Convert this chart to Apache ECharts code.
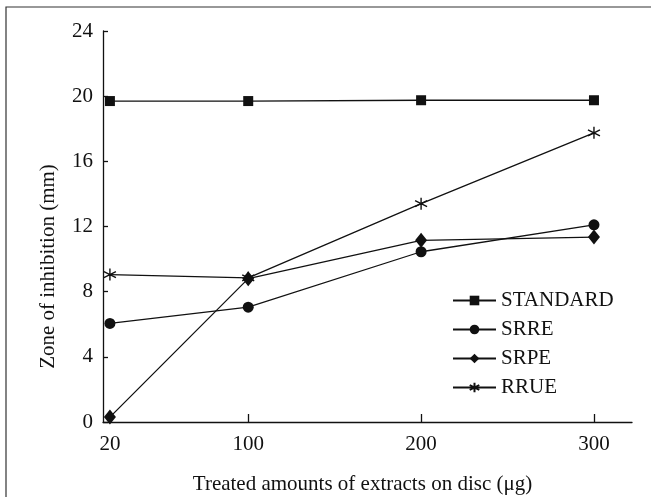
<!DOCTYPE html>
<html>
<head>
<meta charset="utf-8">
<script src="https://cdn.jsdelivr.net/npm/echarts@6/dist/echarts.min.js"></script>
<style>
  html, body { margin: 0; padding: 0; background: #fff; }
  #main { width: 651px; height: 497px; }
</style>
</head>
<body>
<div id="main"></div>
<script>
// amounts of extract on the disc (ug)
var doses = [20, 100, 200, 300];
var yTicks = [0, 4, 8, 12, 16, 20, 24];
// zone of inhibition (mm)
var standard = [19.7, 19.7, 19.75, 19.75];
var srre = [6.05, 7.05, 10.45, 12.1];
var srpe = [0.3, 8.8, 11.15, 11.35];
var rrue = [9.05, 8.85, 13.4, 17.75];

var names = ['STANDARD', 'SRRE', 'SRPE', 'RRUE'];
var ink = '#111';
var font = '"Liberation Serif", "DejaVu Serif", serif';

function pairs(vals) {
  var out = [];
  for (var i = 0; i < doses.length; i++) {
    out.push([doses[i], vals[i]]);
  }
  return out;
}

function mkSeries(name, vals, symbol, size, extra) {
  var s = {
    name: name,
    type: 'line',
    data: pairs(vals),
    symbol: symbol,
    symbolSize: size,
    lineStyle: { color: ink, width: 1.3 },
    itemStyle: { color: ink },
    emphasis: { disabled: true },
    z: 3
  };
  if (extra) {
    for (var k in extra) s[k] = extra[k];
  }
  return s;
}

var star = 'path://M5,0L5,10M0.7,2.5L9.3,7.5M0.7,7.5L9.3,2.5';

var myChart = echarts.init(document.getElementById('main'));
var opt = {
  backgroundColor: '#fff',
  animation: false,
  textStyle: { fontFamily: font, color: ink },
  graphic: [
    {
      type: 'rect',
      shape: { x: 6, y: 7, width: 700, height: 600 },
      style: { fill: 'none', stroke: '#333', lineWidth: 1.2 },
      silent: true
    }
  ],
  grid: { left: 103, top: 31, right: 19, bottom: 75, containLabel: false, outerBoundsMode: 'none' },
  legend: {
    orient: 'vertical',
    left: 447,
    top: 285,
    itemWidth: 43,
    itemHeight: 12,
    itemGap: 8,
    textStyle: { fontFamily: font, fontSize: 21, color: ink },
    data: names
  },
  xAxis: {
    type: 'value',
    min: 16,
    max: 322,
    name: 'Treated amounts of extracts on disc (μg)',
    nameLocation: 'middle',
    nameGap: 52,
    nameTextStyle: { fontFamily: font, fontSize: 21, color: ink, padding: [0, 10, 0, 0] },
    axisLine: { show: true, lineStyle: { color: ink, width: 1.3 } },
    axisTick: { show: true, inside: true, length: 8, customValues: doses, lineStyle: { color: ink, width: 1.3 } },
    axisLabel: { customValues: doses, margin: 12, fontFamily: font, fontSize: 21, color: ink },
    splitLine: { show: false }
  },
  yAxis: {
    type: 'value',
    min: 0,
    max: 24,
    interval: 4,
    name: 'Zone of inhibition (mm)',
    nameLocation: 'middle',
    nameGap: 44,
    nameTextStyle: { fontFamily: font, fontSize: 21, color: ink, padding: [0, 80, 0, 0] },
    axisLine: { show: true, lineStyle: { color: ink, width: 1.3 } },
    axisTick: { show: true, inside: true, length: 5, lineStyle: { color: ink, width: 1.3 } },
    axisLabel: {
      margin: 10, fontFamily: font, fontSize: 21, color: ink,
      formatter: function (v) { return yTicks.indexOf(v) >= 0 ? String(v) : ''; }
    },
    splitLine: { show: false }
  },
  series: [
    mkSeries(names[0], standard, 'rect', 10),
    mkSeries(names[1], srre, 'circle', 11),
    mkSeries(names[2], srpe, 'diamond', [12, 15]),
    mkSeries(names[3], rrue, star, 12, {
      itemStyle: { color: 'none', borderColor: ink, borderWidth: 1.4 }
    })
  ]
};
myChart.setOption(opt, { notMerge: true });
</script>
</body>
</html>
